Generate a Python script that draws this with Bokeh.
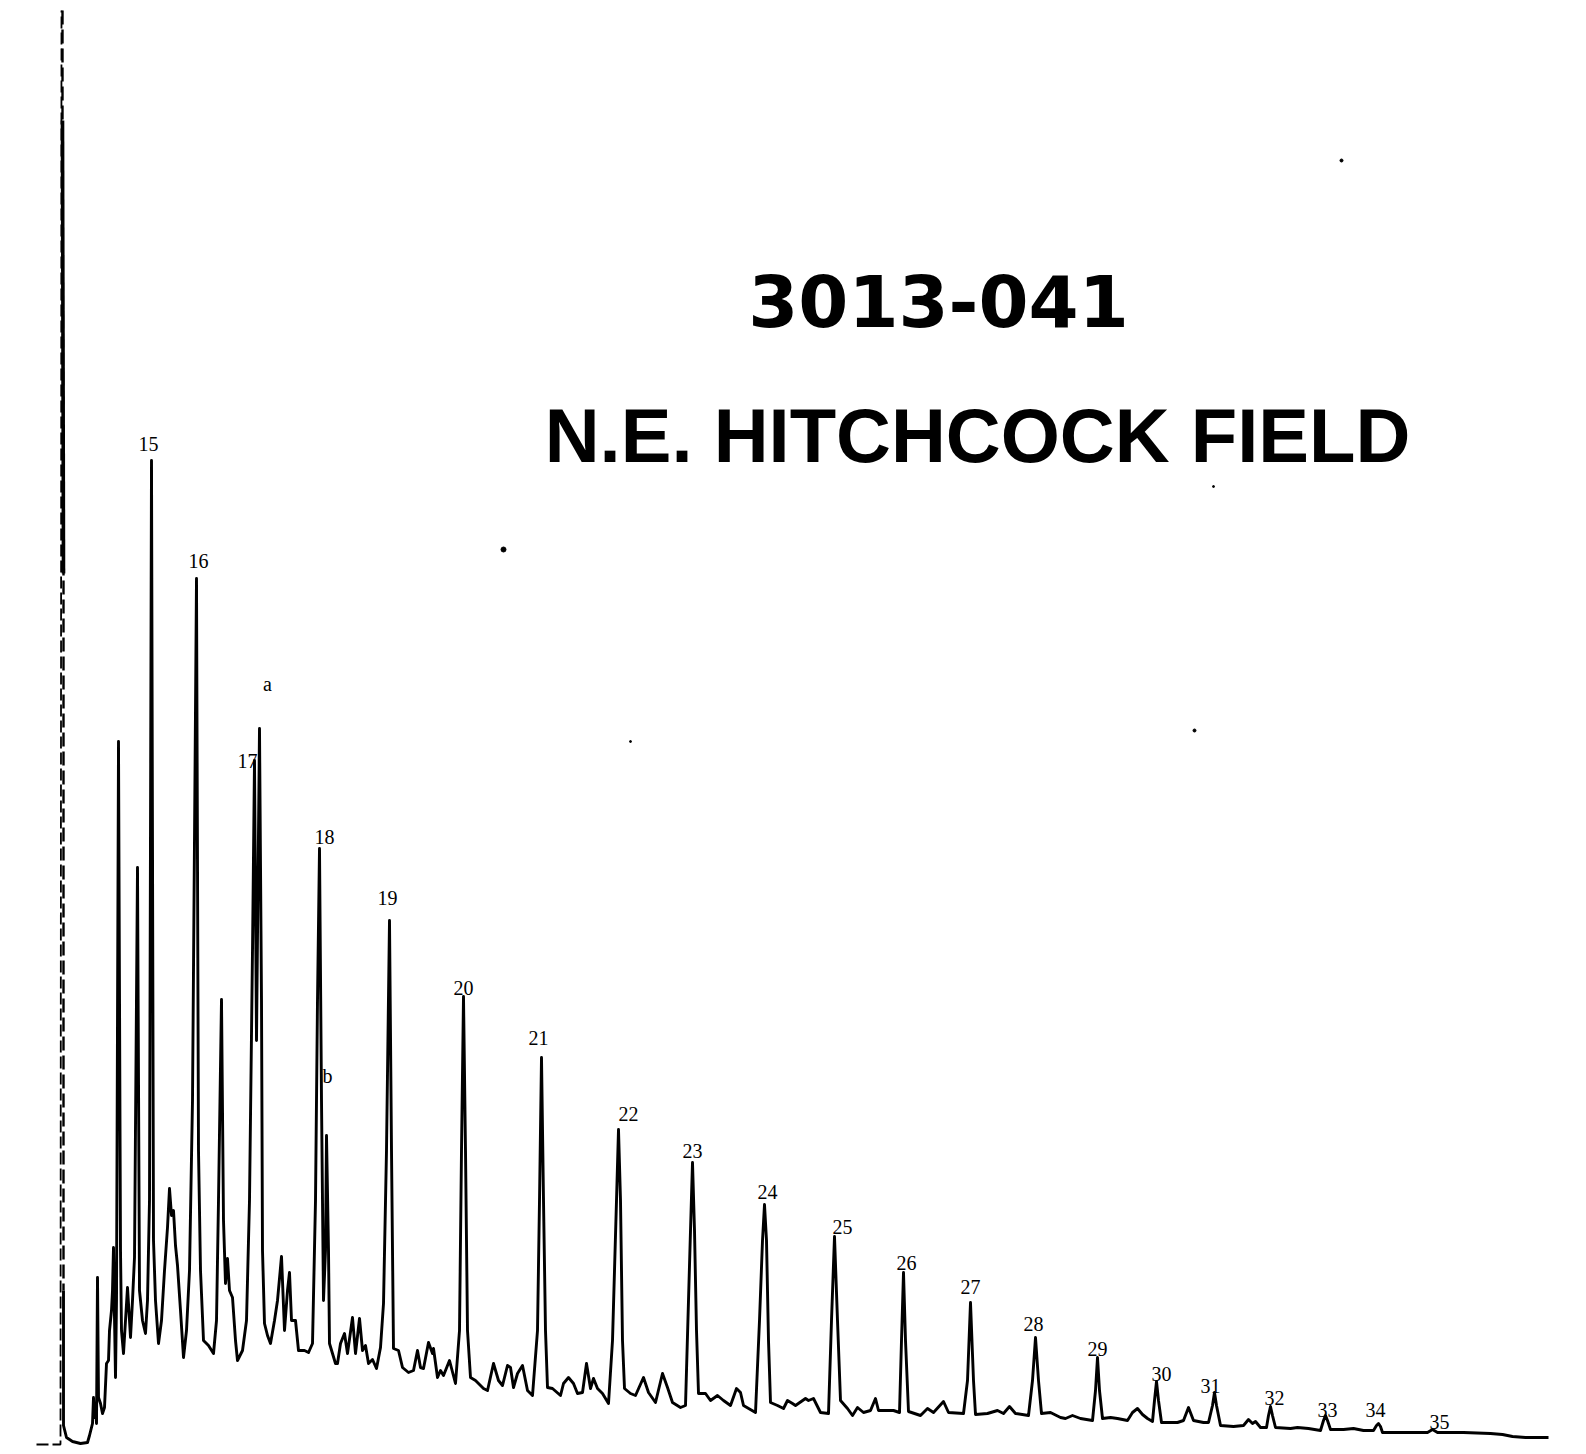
from bokeh.plotting import figure
from bokeh.models import Range1d, ColumnDataSource
from bokeh.embed import file_html
from bokeh.resources import INLINE
from bokeh.core.properties import value

# ---- chromatogram trace (retention units, detector response units) ----
early_x = [63, 63, 66, 72, 80, 87, 89, 92, 93, 94, 95, 96, 97, 98, 100, 102, 104, 106, 108, 109,
           111, 112, 113, 114, 115, 116, 118, 120, 121, 123, 125, 127, 129, 130, 132, 134, 137, 139,
           142, 145, 147, 149, 151, 153, 155, 158, 161, 164, 167, 169, 171, 173, 175, 177, 180, 183,
           186, 189, 192, 196, 198, 200, 203, 208, 213, 216, 218, 221, 223, 225, 227, 229, 232, 235,
           237, 242, 246, 249, 252, 254, 256, 259, 261, 262, 264, 267, 270, 274, 277, 281, 284, 287,
           289, 291, 295, 298, 304, 308, 312, 315, 317, 319, 321, 323, 325, 326, 328, 329]
early_y = [156, 21, 9, 5, 3, 4, 11, 23, 49, 29, 43, 23, 169, 49, 43, 33, 39, 83, 86, 116,
           136, 156, 199, 129, 69, 146, 705, 196, 116, 93, 126, 159, 126, 109, 146, 189, 579, 156,
           126, 113, 146, 246, 986, 206, 146, 103, 126, 176, 219, 258, 231, 236, 201, 181, 136, 89,
           116, 176, 346, 868, 296, 176, 106, 101, 93, 126, 246, 447, 226, 163, 188, 156, 149, 106,
           86, 96, 126, 246, 496, 686, 406, 718, 446, 196, 123, 111, 103, 126, 146, 190, 116, 156,
           174, 126, 126, 96, 96, 94, 103, 246, 446, 598, 346, 146, 196, 311, 196, 103]

mid_x = [335, 337, 340, 344, 347, 352, 355, 359, 362, 365, 368, 372, 376, 380, 383, 386, 389, 391,
         393, 398, 402, 408, 413, 417, 420, 423, 428, 432, 433, 437, 440, 443, 449, 455, 459, 461,
         463, 465, 467, 470, 475, 483, 487, 493, 498, 502, 507, 510, 513, 517, 522, 527, 532, 537,
         539, 541, 543, 545, 547, 552, 560, 563, 568, 573, 577, 582, 586, 590, 593, 597, 602, 608,
         612, 616, 618, 620, 622, 624, 630, 635, 643, 648, 655, 662, 667, 672, 680, 685, 688, 690,
         692, 694, 696, 698]
mid_y = [83, 83, 103, 113, 93, 129, 93, 128, 96, 101, 83, 87, 78, 99, 143, 296, 526, 296,
         98, 96, 79, 74, 76, 96, 79, 78, 104, 93, 98, 69, 76, 71, 86, 63, 116, 296,
         450, 296, 116, 69, 66, 58, 56, 83, 66, 61, 81, 79, 59, 73, 81, 56, 51, 116,
         246, 389, 246, 116, 59, 58, 51, 63, 69, 63, 53, 54, 83, 58, 68, 58, 53, 43,
         106, 246, 317, 246, 106, 58, 53, 51, 69, 54, 44, 73, 59, 44, 39, 41, 146, 216,
         284, 216, 116, 53]

late_x = [705, 710, 717, 723, 730, 736, 740, 743, 755, 759, 762, 764, 766, 768, 770, 777, 783, 787,
          792, 795, 805, 808, 813, 820, 828, 831, 834, 837, 840, 847, 852, 857, 863, 870, 875, 878,
          883, 893, 899, 901, 903, 905, 908, 920, 927, 933, 943, 948, 963, 967, 970, 973, 975, 987,
          997, 1003, 1009, 1015, 1028, 1032, 1035, 1038, 1041, 1050, 1060, 1065, 1072, 1080, 1092,
          1095, 1097, 1099, 1102, 1110, 1117, 1127, 1132, 1137, 1142, 1147, 1152, 1154, 1156, 1158,
          1161, 1177, 1183, 1188, 1193, 1203, 1208, 1212, 1214, 1216, 1220, 1233, 1243, 1248, 1252,
          1255, 1260, 1266, 1268, 1270, 1272, 1275, 1290, 1297, 1308, 1320, 1323, 1325, 1327, 1330,
          1343, 1353, 1363, 1373, 1376, 1378, 1380, 1382, 1397, 1413, 1427, 1432, 1437, 1463, 1490,
          1502, 1512, 1525, 1548]
late_y = [53, 46, 51, 46, 41, 58, 54, 41, 34, 126, 206, 242, 206, 106, 44, 41, 38, 46,
          43, 41, 48, 46, 48, 34, 33, 126, 210, 126, 46, 38, 31, 39, 34, 36, 48, 36,
          36, 36, 34, 106, 174, 106, 35, 31, 38, 34, 45, 34, 33, 66, 144, 66, 32, 33,
          36, 33, 40, 33, 31, 66, 109, 66, 33, 34, 29, 28, 31, 28, 26,
          56, 89, 56, 28, 29, 28, 26, 34, 38, 32, 28, 25, 46, 65, 46,
          24, 24, 26, 39, 26, 24, 24, 41, 54, 41, 21, 20, 21, 27, 23,
          25, 19, 19, 31, 40, 31, 19, 18, 19, 18, 16, 26, 31, 26, 17,
          17, 18, 16, 16, 21, 23, 20, 14, 14, 14, 14, 17, 14, 14, 13,
          12, 10, 9, 9]

# solvent front (fast pen strokes)
solvent_up_x = [36, 60, 61]
solvent_up_y = [2, 2, 1436]
solvent_down_x = [62, 63]
solvent_down_y = [1326, 873]
solvent_dash_x = [62, 62, 63, 63]
solvent_dash_y = [1436, 1326, 873, 156]

# ---- peak labels (carbon numbers and markers) ----
label_text = ["15", "16", "a", "17", "18", "b", "19", "20", "21", "22", "23", "24",
              "25", "26", "27", "28", "29", "30", "31", "32", "33", "34", "35"]
label_x = [148, 198, 267, 247, 324, 327, 387, 463, 538, 628, 692, 767,
           842, 906, 970, 1033, 1097, 1161, 1210, 1274, 1327, 1375, 1439]
label_y = [996, 879, 756, 679, 603, 364, 542, 452, 402, 326, 289, 248,
           213, 177, 153, 116, 91, 66, 54, 42, 30, 30, 18]

# scan specks
speck_x = [503, 1341, 1194, 1213, 630]
speck_y = [897, 1286, 716, 960, 705]
speck_size = [5, 3, 3, 2, 2]

title_1 = "3013-041"
title_2 = "N.E. HITCHCOCK FIELD"

p = figure(width=1586, height=1454, x_range=Range1d(0, 1586), y_range=Range1d(-8, 1446),
           output_backend="svg", toolbar_location=None, min_border=0,
           x_axis_location=None, y_axis_location=None)
p.grid.visible = False
p.outline_line_color = None
p.background_fill_color = "white"
p.border_fill_color = "white"

trace_x = early_x + mid_x + late_x
trace_y = early_y + mid_y + late_y
p.line(trace_x, trace_y, line_color="black", line_width=2.9, line_join="round")
p.line(solvent_up_x, solvent_up_y, line_color="black", line_width=1.8, line_dash="12 4")
p.line(solvent_dash_x, solvent_dash_y, line_color="black", line_width=2.4, line_dash="14 5")
p.line(solvent_down_x, solvent_down_y, line_color="black", line_width=3.6)

p.scatter(speck_x, speck_y, size=speck_size, color="black")

src = ColumnDataSource(dict(x=label_x, y=label_y, t=label_text))
p.text(x="x", y="y", text="t", source=src, text_font=value("Liberation Serif"),
       text_font_size="20px", text_align="center", text_baseline="alphabetic",
       text_color="black", y_offset=-7)

p.text(x=[938], y=[1119], text=[title_1], text_font=value("DejaVu Sans"),
       text_font_style="bold", text_font_size="72px", text_align="center",
       text_baseline="alphabetic", text_color="black", y_offset=-27)
p.text(x=[977], y=[983], text=[title_2], text_font=value("Liberation Sans"),
       text_font_style="bold", text_font_size="76px", text_align="center",
       text_baseline="alphabetic", text_color="black", y_offset=-28)

open("out.html", "w").write(file_html(p, INLINE))
